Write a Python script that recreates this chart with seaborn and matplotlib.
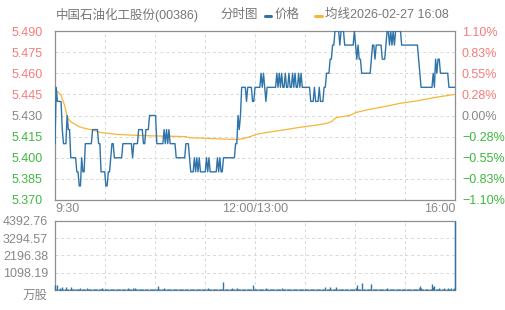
import numpy as np
import pandas as pd
import matplotlib
matplotlib.use("Agg")
import matplotlib.pyplot as plt
from matplotlib.lines import Line2D
import seaborn as sns

# ---------------- data ----------------
prev_close = 5.43
title_text = "中国石油化工股份(00386)"
legend_price = "价格"
legend_avg = "均线2026-02-27 16:08"
x_labels = ["9:30", "12:00/13:00", "16:00"]

# price per minute, stored as (level, run length)
price_levels = [
    5.41, 5.45, 5.44, 5.42, 5.41, 5.43, 5.42, 5.40, 5.39, 5.38, 5.40, 5.39, 5.41, 5.42, 5.41, 5.39,
    5.38, 5.39, 5.40, 5.41, 5.40, 5.41, 5.40, 5.41, 5.42, 5.41, 5.42, 5.43, 5.41, 5.42, 5.41, 5.42,
    5.41, 5.42, 5.41, 5.40, 5.41, 5.40, 5.39, 5.40, 5.39, 5.40, 5.39, 5.40, 5.39, 5.40, 5.39, 5.40,
    5.39, 5.40, 5.39, 5.40, 5.39, 5.40, 5.41,
    5.43, 5.42, 5.43, 5.45, 5.44, 5.45, 5.44, 5.45, 5.46, 5.45, 5.46, 5.45, 5.44, 5.45, 5.46, 5.45,
    5.46, 5.45, 5.46, 5.45, 5.46, 5.45, 5.46, 5.45, 5.46, 5.45, 5.46, 5.45, 5.46, 5.45, 5.46, 5.45,
    5.44, 5.45, 5.44, 5.45, 5.44, 5.45, 5.46, 5.47, 5.48, 5.49, 5.48, 5.49, 5.48, 5.49, 5.48, 5.47,
    5.48, 5.47, 5.46, 5.47, 5.48, 5.47, 5.48, 5.47, 5.48, 5.49, 5.48, 5.49, 5.48, 5.49, 5.48, 5.49,
    5.48, 5.47, 5.46, 5.45, 5.46, 5.45, 5.47, 5.46, 5.47, 5.46, 5.45,
]
price_runs = [
    1, 1, 4, 1, 3, 1, 2, 5, 2, 2, 1, 2, 6, 5, 2, 4,
    2, 2, 1, 2, 7, 8, 1, 4, 4, 2, 3, 6, 6, 1, 1, 1,
    1, 1, 5, 8, 3, 1, 3, 1, 1, 1, 1, 1, 5, 1, 1, 1,
    6, 1, 1, 1, 2, 10, 2,
    1, 1, 1, 4, 1, 4, 2, 5, 1, 1, 1, 1, 1, 8, 1, 1,
    1, 1, 1, 2, 1, 2, 1, 2, 1, 1, 1, 2, 1, 1, 1, 7,
    3, 1, 3, 1, 3, 2, 3, 2, 2, 4, 1, 3, 8, 1, 1, 1,
    1, 2, 8, 1, 2, 1, 5, 3, 1, 2, 1, 1, 1, 1, 1, 5,
    14, 1, 1, 10, 1, 1, 1, 1, 2, 7, 6,
]

avg_minutes = [0, 2, 5, 8, 10, 13, 20, 24, 31, 37, 51, 65, 82, 95, 108, 111, 125, 139,
               150, 155, 161, 166, 175, 188, 202, 216, 224, 228, 232, 243, 249, 257, 271,
               285, 298, 312, 330]
avg_values = [5.446, 5.447, 5.4445, 5.437, 5.429, 5.4256, 5.422, 5.421, 5.4197, 5.418,
              5.4166, 5.416, 5.4155, 5.4153, 5.415, 5.4142, 5.4138, 5.4133,
              5.413, 5.4135, 5.415, 5.4166, 5.418, 5.4197, 5.4216, 5.4232, 5.4244, 5.4256,
              5.4285, 5.430, 5.4323, 5.4339, 5.4362, 5.4387, 5.4403, 5.4426, 5.445]

volume = [
    330, 90, 300, 80, 110, 70, 190, 90, 60, 180,
    70, 60, 80, 190, 60, 50, 70, 60, 50, 80,
    60, 130, 50, 60, 70, 50, 140, 60, 40, 50,
    60, 50, 40, 60, 50, 40, 60, 50, 70, 110,
    50, 40, 60, 50, 40, 50, 60, 40, 50, 40,
    50, 40, 60, 50, 40, 50, 40, 60, 50, 40,
    130, 50, 40, 60, 110, 50, 120, 40, 50, 40,
    50, 40, 60, 50, 40, 50, 60, 40, 50, 40,
    50, 40, 60, 50, 60, 250, 70, 50, 60, 60,
    130, 50, 40, 60, 50, 40, 50, 40, 60, 50,
    40, 50, 60, 40, 50, 40, 60, 50, 40, 50,
    60, 40, 50, 40, 60, 50, 40, 50, 60, 40,
    50, 40, 60, 50, 40, 50, 120, 40, 50, 60,
    40, 50, 60, 40, 50, 40, 60, 50, 40, 500,
    60, 40, 50, 60, 40, 50, 110, 40, 50, 60,
    150, 90, 70, 60, 80, 60, 50, 70, 60, 50,
    60, 50, 70, 330, 60, 50, 40, 60, 50, 40,
    50, 60, 40, 50, 120, 40, 50, 60, 40, 50,
    60, 40, 50, 40, 60, 50, 40, 100, 50, 40,
    60, 50, 40, 50, 60, 40, 50, 40, 60, 50,
    40, 50, 60, 40, 50, 40, 60, 50, 40, 50,
    60, 40, 50, 40, 60, 50, 40, 50, 60, 40,
    50, 40, 60, 190, 50, 40, 60, 200, 50, 40,
    60, 50, 180, 40, 50, 40, 60, 50, 40, 50,
    60, 40, 50, 40, 60, 50, 40, 50, 150, 320,
    60, 50, 40, 440, 60, 50, 40, 60, 50, 40,
    50, 380, 60, 50, 40, 50, 60, 40, 50, 40,
    60, 50, 40, 50, 100, 40, 50, 60, 40, 50,
    60, 40, 50, 40, 60, 50, 40, 50, 60, 40,
    50, 40, 60, 50, 40, 50, 60, 40, 50, 60,
    150, 250, 120, 60, 50, 40, 60, 50, 40, 50,
    60, 380, 200, 250, 60, 50, 40, 100, 50, 40,
    60, 100, 50, 40, 110, 50, 40, 100, 60, 140,
    4392.76,
]
vol_ticks = [0, 1098.19, 2196.38, 3294.57, 4392.76]

# ---------------- style ----------------
sns.set_theme(style="white")
plt.rcParams["font.family"] = ["Liberation Sans", "Noto Sans CJK SC", "DejaVu Sans"]

BLUE = "#2f74a8"
ORANGE = "#f7b538"
RED = "#f77b7b"
GREEN = "#3fb83f"
GRAY = "#888888"
SPINE = "#8f8f8f"
GRID = "#d8d8d8"

prices = np.repeat(price_levels, price_runs)
n = len(prices)
xmax = n - 1
df_price = pd.DataFrame({"t": np.arange(n), "price": prices})
df_avg = pd.DataFrame({"t": avg_minutes, "avg": avg_values})
df_vol = pd.DataFrame({"t": np.arange(len(volume)), "vol": volume})

W, H = 505, 310
fig = plt.figure(figsize=(W / 100, H / 100), dpi=100)

def fx(px):
    return px / W

def fy(py):
    return 1 - py / H

ax = fig.add_axes([fx(55), fy(200), fx(400), fy(31) - fy(200)])
axv = fig.add_axes([fx(55), fy(290), fx(400), fy(220.7) - fy(290)])

# grid positions (8 vertical divisions)
vgrid = [xmax * k / 8 for k in range(9)]
pticks = [5.370 + 0.015 * k for k in range(9)]

for a in (ax, axv):
    for s in a.spines.values():
        s.set_color(SPINE)
        s.set_linewidth(0.9)
    a.set_xlim(0, xmax)
    for g in vgrid[1:-1]:
        a.axvline(g, color=GRID, lw=0.7, ls=(0, (3, 3)), zorder=0)

for p in pticks[1:-1]:
    ax.axhline(p, color=GRID, lw=0.7, ls=(0, (3, 3)), zorder=0)
for v in vol_ticks[1:-1] + [vol_ticks[-1]]:
    axv.axhline(v, color=GRID, lw=0.7, ls=(0, (3, 3)), zorder=0)

sns.lineplot(data=df_price, x="t", y="price", ax=ax, color=BLUE, lw=1.0, zorder=3)
sns.lineplot(data=df_avg, x="t", y="avg", ax=ax, color=ORANGE, lw=0.9, zorder=2)
ax.set_ylim(5.370, 5.490)
ax.set_xlabel("")
ax.set_ylabel("")

# left price labels
ax.set_yticks(pticks)
ax.set_yticklabels([f"{p:.3f}" for p in pticks])
ax.tick_params(axis="y", length=0, pad=9, labelsize=9)
for p, lab in zip(pticks, ax.get_yticklabels()):
    c = RED if p > prev_close + 1e-9 else (GREEN if p < prev_close - 1e-9 else GRAY)
    lab.set_color(c)

# right percentage labels
axr = ax.twinx()
axr.set_ylim(5.370, 5.490)
axr.set_yticks(pticks)
pct = [(p / prev_close - 1) * 100 for p in pticks]
axr.set_yticklabels([(f"{v:.2f}%" if v >= -0.001 else f"\u2212{abs(v):.2f}%") for v in pct])
axr.tick_params(axis="y", length=0, pad=5, labelsize=9)
for v, lab in zip(pct, axr.get_yticklabels()):
    c = RED if v > 0.001 else (GREEN if v < -0.001 else GRAY)
    lab.set_color(c)
for s in axr.spines.values():
    s.set_visible(False)

# x labels
ax.set_xticks([0, xmax / 2, xmax])
ax.set_xticklabels(x_labels)
ax.tick_params(axis="x", length=0, pad=2, labelsize=9, labelcolor=GRAY)
labs = ax.get_xticklabels()
labs[0].set_ha("left")
labs[-1].set_ha("right")

# volume bars (1px vertical bars)
axv.vlines(df_vol["t"], 0, df_vol["vol"], color=BLUE, lw=1.0, zorder=4, clip_on=False)
axv.set_ylim(0, vol_ticks[-1])
axv.set_yticks(vol_ticks)
axv.set_yticklabels(["万股"] + [f"{v:.2f}" for v in vol_ticks[1:]])
axv.tick_params(axis="y", length=0, pad=5, labelsize=9, labelcolor=GRAY)
axv.set_xticks([])
axv.set_xlabel("")
axv.set_ylabel("")
vl = axv.get_yticklabels()
vl[0].set_va("top")

# header
fig.text(fx(56), fy(15), title_text, fontsize=9, color="#777777", va="center", ha="left")
fig.text(fx(220), fy(15), "分时图", fontsize=9, color="#777777", va="center", ha="left")
fig.add_artist(Line2D([fx(265), fx(271)], [fy(15.5), fy(15.5)], color=BLUE, lw=2.2))
fig.text(fx(275), fy(15), legend_price, fontsize=9, color="#777777", va="center", ha="left")
fig.add_artist(Line2D([fx(315), fx(322)], [fy(15.5), fy(15.5)], color=ORANGE, lw=2.2))
fig.text(fx(325), fy(15), legend_avg, fontsize=9, color="#777777", va="center", ha="left")

fig.savefig("out.png", dpi=100)
